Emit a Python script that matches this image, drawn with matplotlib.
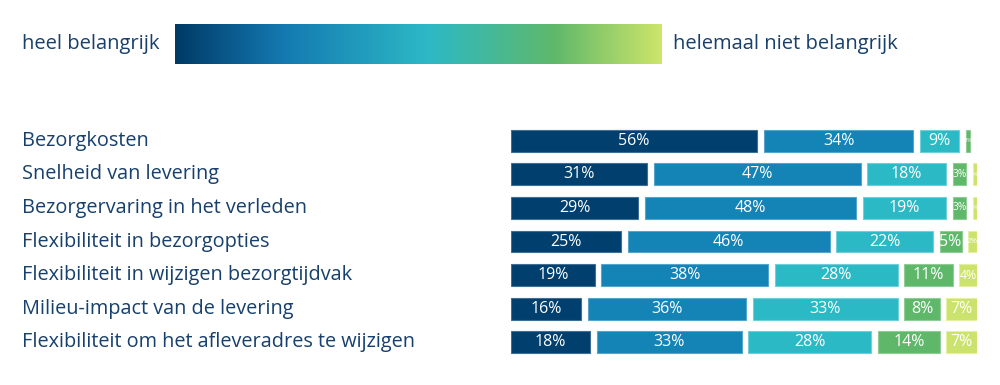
import numpy as np
import matplotlib
matplotlib.use("Agg")
import matplotlib.pyplot as plt
from matplotlib.colors import LinearSegmentedColormap
from matplotlib.transforms import blended_transform_factory

plt.rcParams['font.family'] = ['Open Sans', 'DejaVu Sans']

# data
categories = [
    "Bezorgkosten",
    "Snelheid van levering",
    "Bezorgervaring in het verleden",
    "Flexibiliteit in bezorgopties",
    "Flexibiliteit in wijzigen bezorgtijdvak",
    "Milieu-impact van de levering",
    "Flexibiliteit om het afleveradres te wijzigen",
]
heel_belangrijk = [56, 31, 29, 25, 19, 16, 18]
belangrijk = [34, 47, 48, 46, 38, 36, 33]
neutraal = [9, 18, 19, 22, 28, 33, 28]
minder_belangrijk = [1, 3, 3, 5, 11, 8, 14]
niet_belangrijk = [0, 1, 1, 2, 4, 7, 7]

series = [heel_belangrijk, belangrijk, neutraal, minder_belangrijk, niet_belangrijk]
colors = ['#003f6e', '#1483b6', '#2cb9c6', '#5fb86a', '#cbe36c']
edge_colors = ['#3f6f95', '#55a6cc', '#6fd0d9', '#8fcd95', '#e2f0a0']
text_color = '#17406d'
gap = 1.5

fig = plt.figure(figsize=(10, 3.85), dpi=100)

# gradient legend
cax = fig.add_axes([0.175, 0.834, 0.487, 0.104])
cmap = LinearSegmentedColormap.from_list(
    'imp', [(0.0, '#003a66'), (0.22, '#1479b1'), (0.52, '#2cb9c6'),
            (0.78, '#5fb86a'), (1.0, '#cde56a')])
cax.imshow(np.linspace(0, 1, 256).reshape(1, -1), aspect='auto', cmap=cmap)
cax.set_axis_off()
fig.text(0.022, 0.886, "heel belangrijk", ha='left', va='center',
         fontsize=14.5, color=text_color)
fig.text(0.673, 0.886, "helemaal niet belangrijk", ha='left', va='center',
         fontsize=14.5, color=text_color)

# bars
ax = fig.add_axes([0.511, 0.0675, 0.466, 0.6104])
y = np.arange(len(categories))
left = np.zeros(len(categories))
for i, vals in enumerate(series):
    vals = np.array(vals, dtype=float)
    ax.barh(y, vals, left=left, height=0.65, color=colors[i],
            edgecolor=edge_colors[i], linewidth=0.8)
    for yi, (lft, v) in enumerate(zip(left, vals)):
        if v <= 0:
            continue
        fs = 11.5 if v >= 5 else 2.5 + 1.6 * v
        ax.text(lft + v / 2, yi, f"{int(v)}%", ha='center', va='center',
                color='white', fontsize=fs)
    left = left + vals + np.where(vals > 0, gap, 0)

ax.set_xlim(0, 100 + 4 * gap)
ax.set_ylim(len(categories) - 0.5, -0.5)
ax.set_axis_off()

trans = blended_transform_factory(fig.transFigure, ax.transData)
for yi, cat in enumerate(categories):
    ax.text(0.022, yi, cat, transform=trans, ha='left', va='center',
            fontsize=14.3, color=text_color)

fig.savefig("out.png", dpi=100)
